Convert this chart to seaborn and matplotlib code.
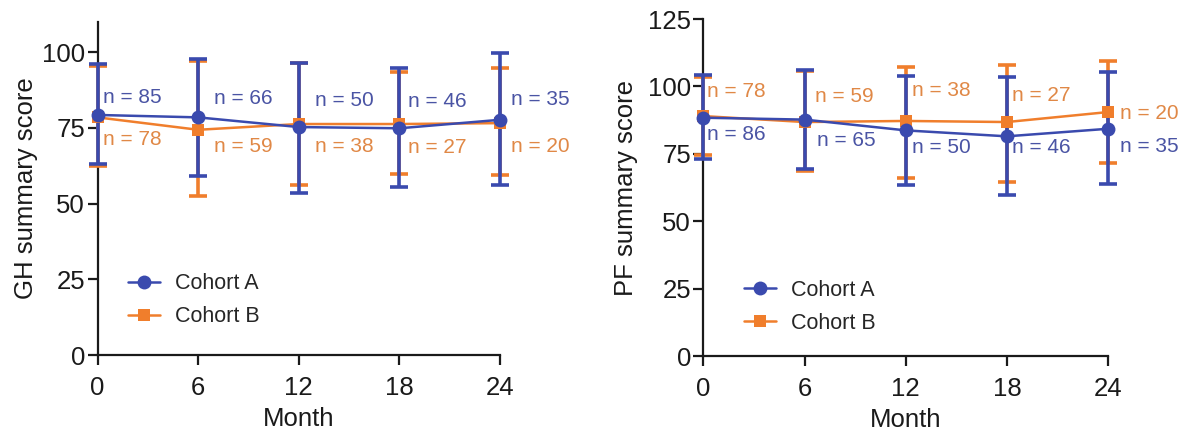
import matplotlib
matplotlib.use("Agg")
import matplotlib.pyplot as plt
from matplotlib.lines import Line2D
import pandas as pd
import seaborn as sns

# Data
months = [0, 6, 12, 18, 24]

# GH summary score
gh_a_mean = [79.3, 78.5, 75.3, 74.9, 77.7]
gh_a_lo = [63.0, 59.2, 53.4, 55.4, 56.2]
gh_a_hi = [96.1, 97.7, 96.6, 94.8, 99.7]
gh_a_n = [85, 66, 50, 46, 35]
gh_b_mean = [78.5, 74.4, 76.3, 76.3, 76.6]
gh_b_lo = [62.5, 52.6, 56.2, 59.8, 59.3]
gh_b_hi = [95.6, 97.0, 96.5, 93.4, 94.8]
gh_b_n = [78, 59, 38, 27, 20]

# PF summary score
pf_a_mean = [88.4, 87.7, 83.7, 81.5, 84.3]
pf_a_lo = [73.0, 69.3, 63.6, 59.9, 63.7]
pf_a_hi = [104.1, 106.2, 103.8, 103.4, 105.3]
pf_a_n = [86, 65, 50, 46, 35]
pf_b_mean = [89.0, 86.8, 87.2, 86.8, 90.5]
pf_b_lo = [74.7, 68.5, 66.0, 64.6, 71.6]
pf_b_hi = [103.5, 105.6, 107.1, 108.1, 109.6]
pf_b_n = [78, 59, 38, 27, 20]

# Styling
BLUE = "#3a4aae"
ORANGE = "#f07e2c"
BLUE_TXT = "#4a54a4"
ORANGE_TXT = "#e08846"
INK = "#1a1a1a"

sns.set_theme(style="ticks")
plt.rcParams["font.family"] = ["Liberation Sans", "DejaVu Sans"]
plt.rcParams["axes.linewidth"] = 1.6
plt.rcParams["axes.edgecolor"] = INK

fig = plt.figure(figsize=(12.04, 4.30), dpi=100)
ax1 = fig.add_axes([0.081, 0.1744, 0.3343, 0.7744])
ax2 = fig.add_axes([0.5843, 0.172, 0.336, 0.7837])


def draw_cohort(ax, mean, lo, hi, ns, color, txtcolor, marker, ms, offs):
    df = pd.DataFrame({"Month": months, "score": mean, "lo": lo, "hi": hi})
    ax.errorbar(df["Month"], df["score"],
                yerr=[df["score"] - df["lo"], df["hi"] - df["score"]],
                fmt="none", ecolor=color, elinewidth=2.6, capsize=6.5,
                capthick=2.6, clip_on=False, zorder=3)
    sns.lineplot(data=df, x="Month", y="score", ax=ax, color=color,
                 marker=marker, markersize=ms, markeredgewidth=0,
                 linewidth=1.8, clip_on=False, zorder=4, legend=False)
    for m, v, n, (dx, dy) in zip(months, mean, ns, offs):
        ax.annotate(f"n = {n}", (m, v), xytext=(dx, dy),
                    textcoords="offset pixels", ha="left", va="center",
                    fontsize=15, color=txtcolor, zorder=6)


# left panel: GH
draw_cohort(ax1, gh_b_mean, gh_b_lo, gh_b_hi, gh_b_n, ORANGE, ORANGE_TXT, "s", 8.5,
            [(5, -22), (16, -17), (16, -22), (9, -23), (11, -23)])
draw_cohort(ax1, gh_a_mean, gh_a_lo, gh_a_hi, gh_a_n, BLUE, BLUE_TXT, "o", 10,
            [(5, 17), (16, 19), (16, 27), (9, 27), (11, 20)])

# right panel: PF
draw_cohort(ax2, pf_b_mean, pf_b_lo, pf_b_hi, pf_b_n, ORANGE, ORANGE_TXT, "s", 8.5,
            [(4, 25), (10, 26), (6, 30), (5, 27), (12, -1)])
draw_cohort(ax2, pf_a_mean, pf_a_lo, pf_a_hi, pf_a_n, BLUE, BLUE_TXT, "o", 10,
            [(4, -17), (12, -21), (6, -17), (5, -11), (12, -18)])

handles = [
    Line2D([], [], color=BLUE, marker="o", markersize=10, markeredgewidth=0, linewidth=1.8),
    Line2D([], [], color=ORANGE, marker="s", markersize=8.5, markeredgewidth=0, linewidth=1.8),
]

for ax, ylab, ytop, yticks, leg_xy, lpad in [
    (ax1, "GH summary score", 110, [0, 25, 50, 75, 100], (0.076, 0.245), 3),
    (ax2, "PF summary score", 125, [0, 25, 50, 75, 100, 125], (0.10, 0.226), 7),
]:
    ax.set_xlim(0, 24)
    ax.set_ylim(0, ytop)
    ax.set_xticks(months)
    ax.set_yticks(yticks)
    sns.despine(ax=ax)
    ax.tick_params(axis="both", labelsize=18.5, length=7, width=1.6,
                   colors=INK)
    ax.tick_params(axis="y", pad=2)
    ax.tick_params(axis="x", pad=8)
    ax.set_xlabel("Month", fontsize=18.5, labelpad=5, color=INK)
    ax.set_ylabel(ylab, fontsize=18.5, labelpad=lpad, color=INK)
    ax.legend(handles, ["Cohort A", "Cohort B"], loc="upper left",
              bbox_to_anchor=leg_xy, frameon=False, fontsize=15.5,
              borderpad=0, borderaxespad=0, handlelength=1.5,
              handletextpad=0.7, labelspacing=0.55)

fig.savefig("out.png", dpi=100)
